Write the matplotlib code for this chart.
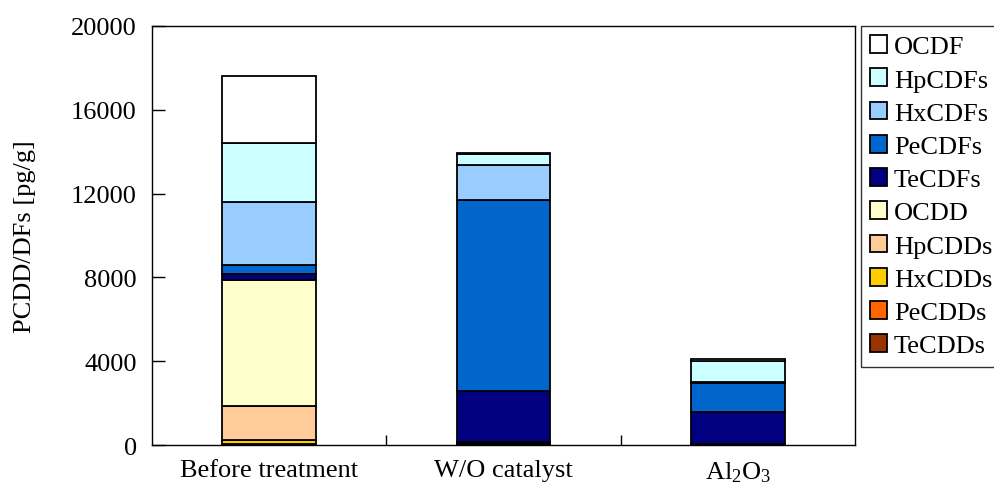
import numpy as np
import matplotlib
matplotlib.use('Agg')
import matplotlib.pyplot as plt

plt.rcParams['font.family'] = ['Liberation Serif', 'DejaVu Serif']
plt.rcParams['mathtext.fontset'] = 'custom'
plt.rcParams['mathtext.rm'] = 'Liberation Serif'
plt.rcParams['mathtext.default'] = 'regular'

# samples
categories = ['Before treatment', 'W/O catalyst', 'Al$_2$O$_3$']

# congener groups, stacked from the bottom (pg/g)
TeCDDs = [20, 20, 10]
PeCDDs = [30, 30, 10]
HxCDDs = [200, 30, 10]
HpCDDs = [1600, 40, 10]
OCDD = [6050, 30, 10]
TeCDFs = [250, 2450, 1520]
PeCDFs = [450, 9100, 1400]
HxCDFs = [3000, 1650, 60]
HpCDFs = [2800, 530, 1000]
OCDF = [3200, 40, 80]

series = [TeCDDs, PeCDDs, HxCDDs, HpCDDs, OCDD, TeCDFs, PeCDFs, HxCDFs, HpCDFs, OCDF]
names = ['TeCDDs', 'PeCDDs', 'HxCDDs', 'HpCDDs', 'OCDD',
         'TeCDFs', 'PeCDFs', 'HxCDFs', 'HpCDFs', 'OCDF']
colors = ['#993300', '#FF6600', '#FFCC00', '#FFCC99', '#FFFFCC',
          '#000080', '#0066CC', '#99CCFF', '#CCFFFF', '#FFFFFF']

fs = 19

fig = plt.figure(figsize=(9.95, 4.89), dpi=100)
ax = fig.add_axes([0.1528, 0.0879, 0.7065, 0.8569])

x = np.arange(len(categories))
bottom = np.zeros(len(categories))
handles = []
for vals, name, c in zip(series, names, colors):
    b = ax.bar(x, vals, 0.4, bottom=bottom, color=c, edgecolor='black',
               linewidth=1.3, label=name)
    handles.append(b)
    bottom += np.array(vals)

ax.set_xlim(-0.5, 2.5)
ax.set_ylim(0, 20000)
ax.set_yticks([0, 4000, 8000, 12000, 16000, 20000])
ax.set_xticks(x)
ax.set_xticklabels(categories)
ax.set_xticks([0.5, 1.5], minor=True)
ax.tick_params(axis='x', which='major', length=0, pad=10, labelsize=fs)
ax.tick_params(axis='x', which='minor', direction='in', length=7, width=1)
ax.tick_params(axis='y', direction='in', length=9, width=1, labelsize=fs, pad=11)
for s in ax.spines.values():
    s.set_linewidth(1)
ax.set_ylabel('PCDD/DFs [pg/g]', fontsize=fs, labelpad=25)

leg = fig.legend(handles[::-1], names[::-1], loc='upper left',
                 bbox_to_anchor=(861 / 995, 1 - 27 / 489), fontsize=fs,
                 frameon=True, fancybox=False, edgecolor='black',
                 handlelength=0.65, handleheight=0.65, handletextpad=0.25,
                 labelspacing=0.385, borderpad=0.35, borderaxespad=0)
leg.get_frame().set_linewidth(1)

fig.savefig('out.png', dpi=100)
